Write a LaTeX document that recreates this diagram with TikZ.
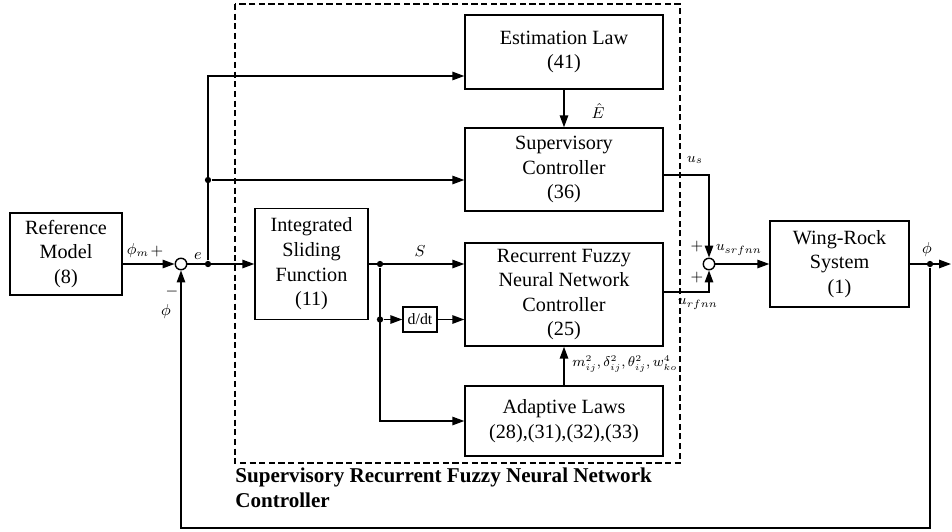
\documentclass[tikz,border=0pt]{standalone}
\usepackage{fontspec}
\setmainfont{Liberation Serif}
\usetikzlibrary{arrows.meta}

\tikzset{
  blk/.style={draw,line width=0.8pt,inner sep=0pt,align=center,font=\fontsize{11.5}{14}\selectfont},
  sumnode/.style={draw,circle,line width=0.8pt,minimum size=0.23cm,inner sep=0pt,fill=white},
  junc/.style={circle,fill,inner sep=0pt,minimum size=3.6pt},
  sig/.style={line width=0.8pt,-{Triangle[length=6.8pt,width=4.8pt]}},
  lbl/.style={font=\small,inner sep=0pt}
}

\begin{document}
\begin{tikzpicture}[x=0.02cm,y=-0.02cm]
  \useasboundingbox (0,0) rectangle (952,531);
  % the blocks
  \node[blk,minimum width=2.24cm,minimum height=1.64cm] (refmod) at (66,254) {Reference\\Model\\(8)};
  \node[blk,minimum width=3.96cm,minimum height=1.48cm] (estim) at (564,52) {Estimation Law\\(41)};
  \node[blk,minimum width=3.96cm,minimum height=1.66cm] (superv) at (564,169.5) {Supervisory\\Controller\\(36)};
  \node[blk,minimum width=2.26cm,minimum height=2.22cm] (isf) at (311.5,264) {Integrated\\Sliding\\Function\\(11)};
  \node[blk,minimum width=3.96cm,minimum height=2.06cm] (rfnn) at (564,294.5) {Recurrent Fuzzy\\Neural Network\\Controller\\(25)};
  \node[blk,minimum width=0.68cm,minimum height=0.5cm,font=\fontsize{9}{10}\selectfont] (ddt) at (420,319.5) {d/dt};
  \node[blk,minimum width=3.96cm,minimum height=1.4cm] (adapt) at (564,421) {Adaptive Laws\\(28),(31),(32),(33)};
  \node[blk,minimum width=2.78cm,minimum height=1.72cm] (wing) at (839.5,264) {Wing-Rock\\System\\(1)};
  \node[sumnode] (sum1) at (181,264) {};
  \node[sumnode] (sum2) at (709,264) {};
  % branch points
  \node[junc] (j1) at (208,264) {};
  \node[junc] (j2) at (208,180) {};
  \node[junc] (j3) at (380,264) {};
  \node[junc] (j4) at (380,319.5) {};
  \node[junc] (j5) at (930,264) {};
  \coordinate (out) at (951,264);
  % signals
  \draw[sig] (refmod.east |- sum1) -- (sum1);
  \draw[sig] (sum1) -- (isf.west |- sum1);
  \draw[sig] (j1) |- ([yshift=-0.48cm]estim.west);
  \draw[sig] (j2) -- (superv.west |- j2);
  \draw[sig] (estim) -- (superv);
  \draw[sig] (isf.east) -- (rfnn.west |- isf.east);
  \draw[sig] (j4) -- (ddt.west);
  \draw[sig] (ddt.east) -- (rfnn.west |- ddt.east);
  \draw[sig] (j3) |- (adapt.west);
  \draw[sig] (adapt) -- (rfnn);
  \draw[sig] ([yshift=-0.11cm]superv.east) -| (sum2.north);
  \draw[sig] ([yshift=0.05cm]rfnn.east) -| (sum2.south);
  \draw[sig] (sum2) -- (wing);
  \draw[sig] (wing) -- (out);
  \draw[sig] (j5) -- ++(0,264) -| (sum1.south);
  % labels
  \node[lbl] (lphim) at (138,251) {$\phi_m$};
  \node[lbl] (lplus1) at (157,252) {$+$};
  \node[lbl] (le) at (198,256) {$e$};
  \node[lbl] (lminus) at (172,292) {$-$};
  \node[lbl] (lphi1) at (166,312) {$\phi$};
  \node[lbl] (lehat) at (598,111) {$\hat{E}$};
  \node[lbl] (ls) at (420,251) {$S$};
  \node[lbl,anchor=west,font=\fontsize{7.6}{9}\selectfont] (lpar) at (572,364) {$m_{ij}^2,\delta_{ij}^2,\theta_{ij}^2,w_{ko}^4$};
  \node[lbl,font=\footnotesize] (lus) at (695,160) {$u_s$};
  \node[lbl,font=\footnotesize] (lurf) at (698,304) {$u_{rfnn}$};
  \node[lbl,font=\footnotesize] (lusrf) at (739,250) {$u_{srfnn}$};
  \node[lbl] (lplus2) at (697,247) {$+$};
  \node[lbl] (lplus3) at (697,278) {$+$};
  \node[lbl] (lphi2) at (927,250) {$\phi$};
  % the controller frame
  \draw[dashed,line width=0.6pt,dash pattern=on 3.5pt off 2pt] (235,4) rectangle (680,463);
  \node[anchor=north west,inner sep=0pt,align=left,font=\fontsize{12}{14.2}\selectfont\bfseries] (title) at (235,468)
    {Supervisory Recurrent Fuzzy Neural Network\\Controller};
\end{tikzpicture}
\end{document}
